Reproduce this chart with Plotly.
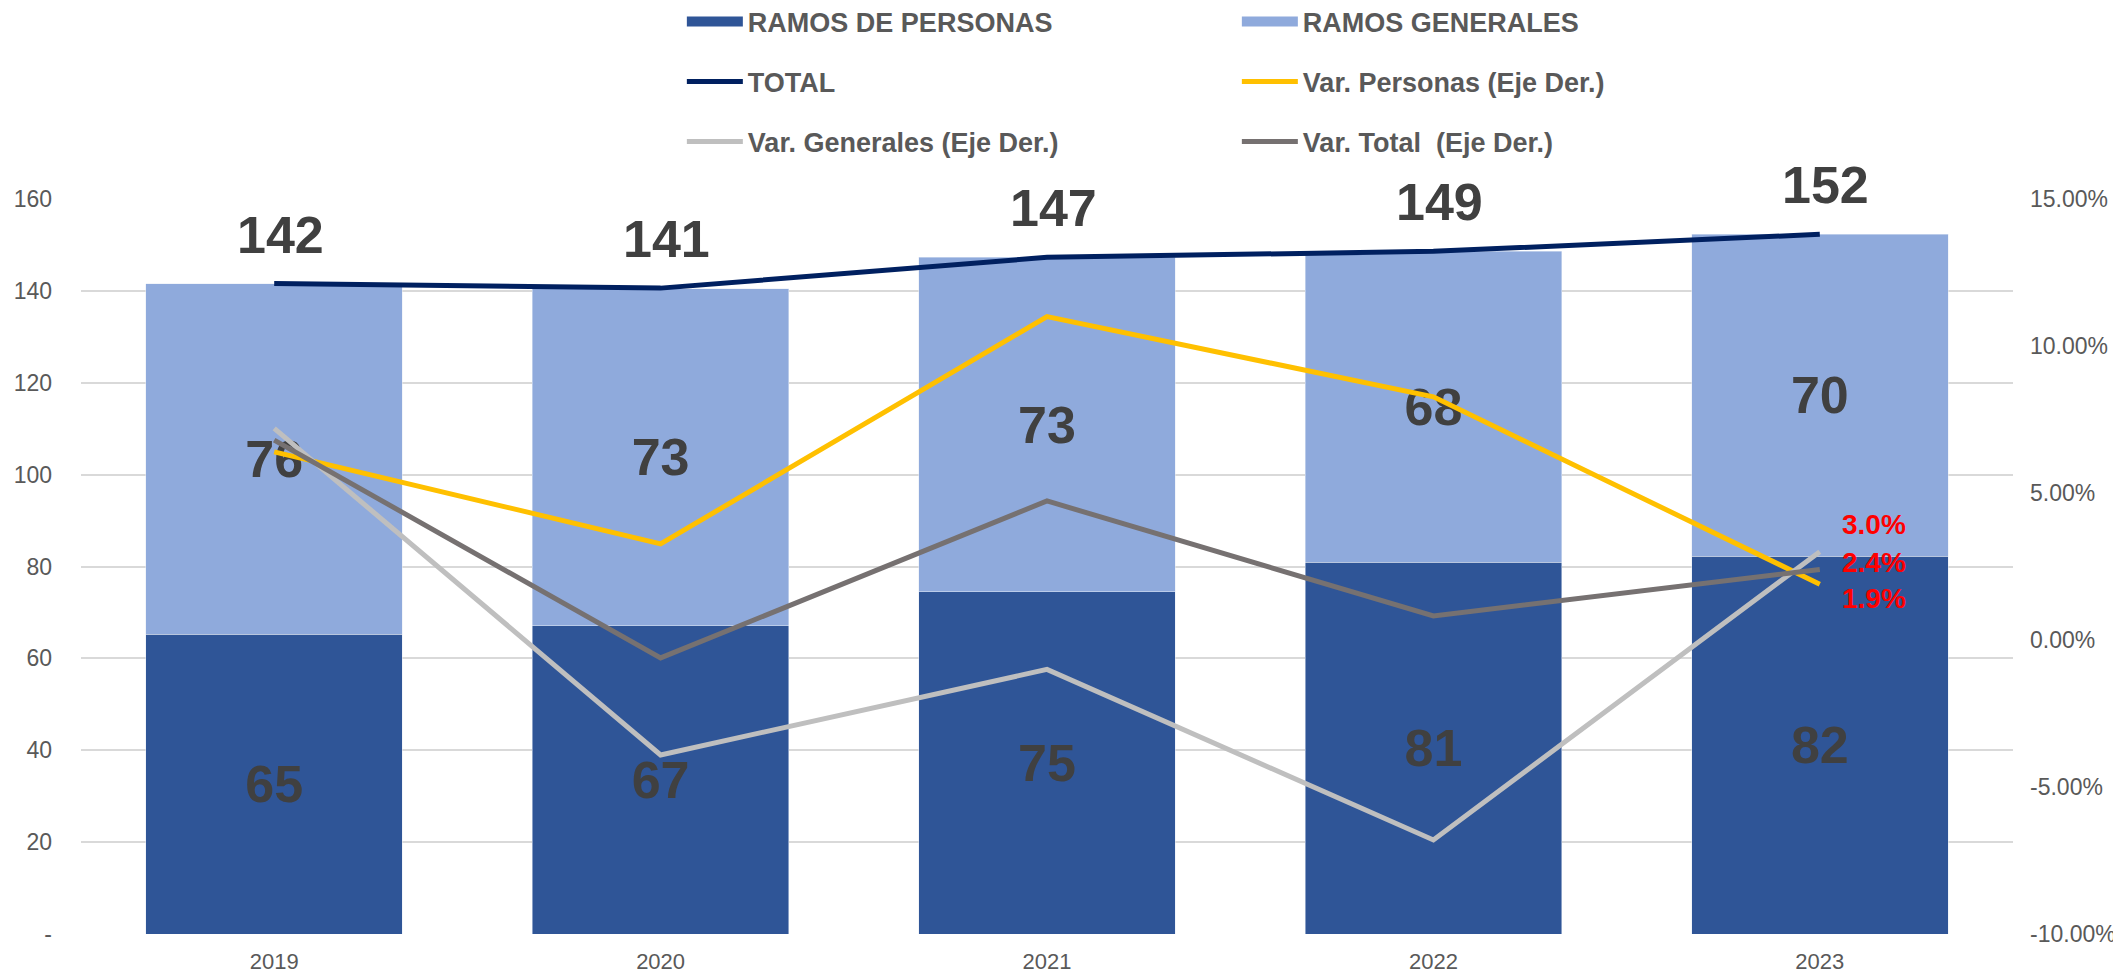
import plotly.graph_objects as go

years = [2019, 2020, 2021, 2022, 2023]
personas = [65.2, 67.1, 74.5, 80.9, 82.2]
generales = [76.4, 73.4, 72.8, 67.7, 70.1]
total = [141.6, 140.6, 147.3, 148.6, 152.3]
var_personas = [6.4, 3.27, 11.0, 8.27, 1.9]
var_generales = [7.2, -3.91, -1.0, -6.8, 3.0]
var_total = [6.8, -0.61, 4.73, 0.82, 2.4]

left_ticks = [0, 20, 40, 60, 80, 100, 120, 140, 160]
left_ticktext = ["-", "20", "40", "60", "80", "100", "120", "140", "160"]
right_ticks = [-10, -5, 0, 5, 10, 15]
right_ticktext = [f"{v:.2f}%" for v in right_ticks]

FONT = "Arial, Liberation Sans, sans-serif"
GRAY_TXT = "#595959"
LABEL_C = "#404040"
C_PERS = "#2F5597"
C_GEN = "#8FAADC"

fig = go.Figure()
fig.add_bar(
    name="RAMOS DE PERSONAS", x=years, y=personas, marker_color=C_PERS,
    texttemplate="%{y:.0f}", textposition="inside", insidetextanchor="middle", textangle=0,
    textfont=dict(size=52, color=LABEL_C, family=FONT, weight="bold"),
    legendgroup="pers", showlegend=False, hoverinfo="skip",
)
fig.add_bar(
    name="RAMOS GENERALES", x=years, y=generales, marker_color=C_GEN,
    texttemplate="%{y:.0f}", textposition="inside", insidetextanchor="middle", textangle=0,
    textfont=dict(size=52, color=LABEL_C, family=FONT, weight="bold"),
    legendgroup="gen", showlegend=False, hoverinfo="skip",
)
# legend-only entries showing the bar colours as wide swatches
fig.add_scatter(name="RAMOS DE PERSONAS", x=[None], y=[None], mode="lines",
                line=dict(color=C_PERS, width=15), legendgroup="pers", legend="legend")
fig.add_scatter(name="RAMOS GENERALES", x=[None], y=[None], mode="lines",
                line=dict(color=C_GEN, width=15), legendgroup="gen", legend="legend")

fig.add_scatter(name="TOTAL", x=years, y=total, mode="lines",
                line=dict(color="#002060", width=5), legend="legend2")
fig.add_scatter(name="Var. Personas (Eje Der.)", x=years, y=var_personas, yaxis="y2",
                mode="lines", line=dict(color="#FFC000", width=5), legend="legend2")
fig.add_scatter(name="Var. Generales (Eje Der.)", x=years, y=var_generales, yaxis="y2",
                mode="lines", line=dict(color="#BFBFBF", width=5), legend="legend3")
fig.add_scatter(name="Var. Total  (Eje Der.)", x=years, y=var_total, yaxis="y2",
                mode="lines", line=dict(color="#767171", width=5), legend="legend3")

annotations = []
for yr, t in zip(years, total):
    annotations.append(dict(x=yr, y=t, xref="x", yref="y", text=f"{t:.0f}", showarrow=False,
                            yshift=49, xshift=6,
                            font=dict(size=52, color=LABEL_C, family=FONT, weight="bold")))
last = len(years) - 1
for series, ysh in [(var_generales, 27), (var_total, 7), (var_personas, -14)]:
    annotations.append(dict(x=years[last], y=series[last], xref="x", yref="y2",
                            text=f"{series[last]:.1f}%", showarrow=False,
                            xanchor="left", yanchor="middle", xshift=20, yshift=ysh,
                            font=dict(size=28, color="#FF0000", family=FONT, weight="bold")))

leg_common = dict(orientation="h", xanchor="left", yanchor="middle",
                  font=dict(size=27, color=GRAY_TXT, family=FONT, weight="bold"),
                  entrywidth=484, entrywidthmode="pixels", itemwidth=56,
                  bgcolor="rgba(0,0,0,0)", traceorder="normal")

# the page body adds an 8px margin, so the figure is drawn 8px smaller to fit the window
fig.update_layout(
    width=2113, height=968,
    margin=dict(l=73, r=108, t=191, b=42, autoexpand=False),
    paper_bgcolor="white", plot_bgcolor="white",
    barmode="stack", bargap=0.336,
    showlegend=True,
    legend=dict(x=0.311, y=1.2408, **leg_common),
    legend2=dict(x=0.311, y=1.1592, **leg_common),
    legend3=dict(x=0.311, y=1.0776, **leg_common),
    xaxis=dict(range=[2018.5, 2023.5], tickvals=years, tickformat="d",
               showgrid=False, showline=False, zeroline=False, ticks="", ticklabelstandoff=12,
               tickfont=dict(size=22, color=GRAY_TXT, family=FONT), automargin=False),
    yaxis=dict(range=[0, 160], tickvals=left_ticks, ticktext=left_ticktext,
               showgrid=True, gridcolor="#D9D9D9", gridwidth=1.5, zeroline=False,
               showline=False, ticks="", ticklabelstandoff=28,
               tickfont=dict(size=23, color=GRAY_TXT, family=FONT), automargin=False),
    yaxis2=dict(range=[-10, 15], tickvals=right_ticks, ticktext=right_ticktext,
                overlaying="y", side="right", showgrid=False, zeroline=False,
                showline=False, ticks="", ticklabelstandoff=16,
                tickfont=dict(size=23, color=GRAY_TXT, family=FONT), automargin=False),
    annotations=annotations,
)

fig.write_html("out.html")
